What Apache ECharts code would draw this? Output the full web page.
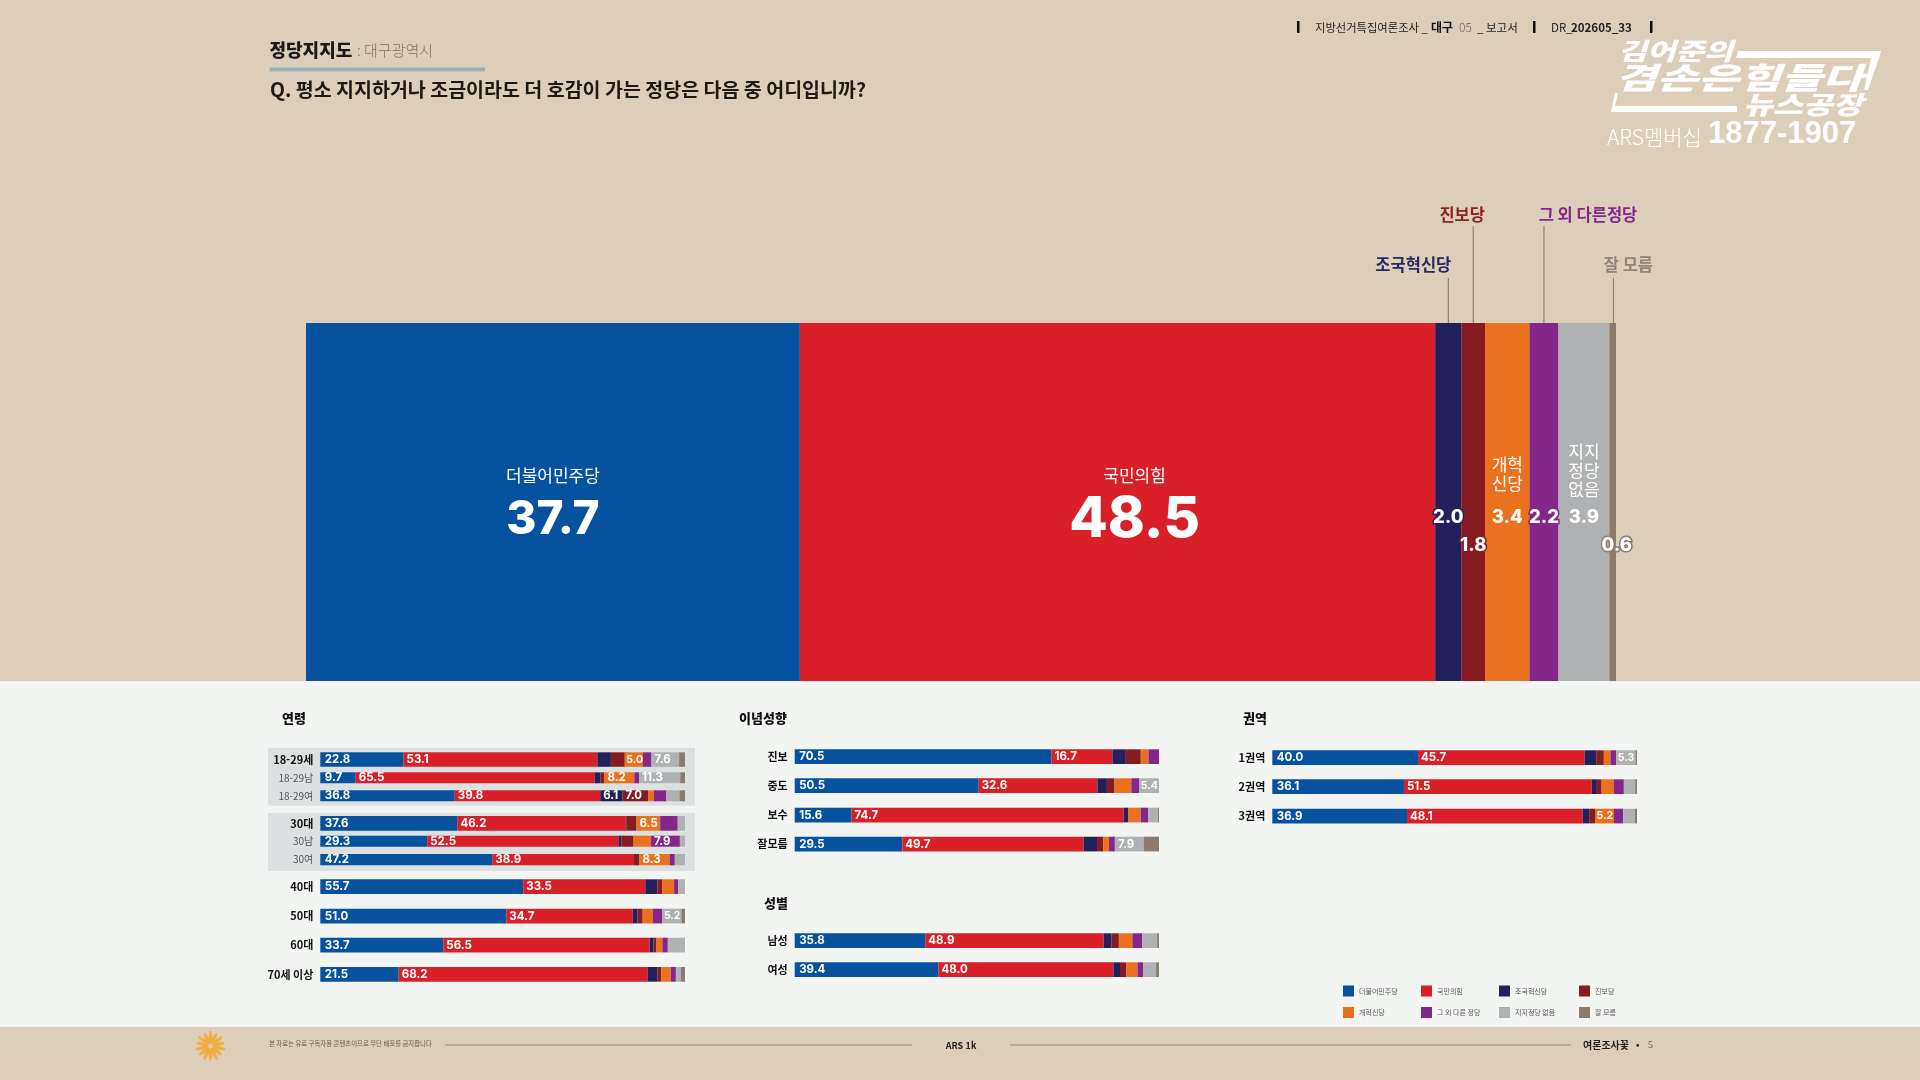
<!DOCTYPE html>
<html lang="ko"><head><meta charset="utf-8">
<style>html,body{margin:0;padding:0;background:#DCCEB8}#c{width:1920px;height:1080px}</style>
<script src="https://cdn.jsdelivr.net/npm/echarts@6/dist/echarts.min.js"></script>
</head><body><div id="c"></div>
<script>
const parties = ['더불어민주당','국민의힘','조국혁신당','진보당','개혁신당','그 외 다른 정당','지지정당 없음','잘 모름'];
const colors = ['#06529E','#D92029','#22215C','#861C22','#EA711E','#83278A','#AFB1B3','#8B7B6E'];
const totalValues = [37.7,48.5,2.0,1.8,3.4,2.2,3.9,0.6];

const ageCategories = ['18-29세','18-29남','18-29여','30대','30남','30여','40대','50대','60대','70세 이상'];
const ageValues = [
 [22.8,53.1,3.7,3.8,5.0,2.3,7.6,1.6],
 [9.7,65.5,1.6,1.1,8.2,1.3,11.3,1.3],
 [36.8,39.8,6.1,7.0,1.6,3.4,3.6,1.5],
 [37.6,46.2,0.2,2.7,6.5,4.8,2.0,0],
 [29.3,52.5,0.7,3.3,4.8,7.9,1.4,0],
 [47.2,38.9,0,1.5,8.3,1.4,2.8,0],
 [55.7,33.5,3.3,1.3,3.3,1.1,1.9,0],
 [51.0,34.7,1.3,1.4,2.8,2.6,5.2,1.0],
 [33.7,56.5,1.1,0.8,1.6,1.5,4.7,0],
 [21.5,68.2,2.7,1.1,2.6,1.4,1.3,1.2]
];
const ideologyCategories = ['진보','중도','보수','잘모름'];
const ideologyValues = [
 [70.5,16.7,3.7,4.1,2.1,2.9,0,0],
 [50.5,32.6,2.6,2.1,4.6,2.2,5.4,0],
 [15.6,74.7,1.2,0,3.5,2.0,2.7,0.3],
 [29.5,49.7,3.7,1.7,1.6,1.6,7.9,4.2]
];
const genderCategories = ['남성','여성'];
const genderValues = [
 [35.8,48.9,2.2,2.0,3.7,2.7,4.1,0.5],
 [39.4,48.0,1.8,1.7,3.1,1.6,3.5,0.8]
];
const regionCategories = ['1권역','2권역','3권역'];
const regionValues = [
 [40.0,45.7,3.2,2.1,1.8,1.6,5.3,0.4],
 [36.1,51.5,1.4,1.3,3.4,2.7,3.1,0.5],
 [36.9,48.1,1.8,1.6,5.2,2.5,3.2,0.6]
];

const KR = '"Noto Sans CJK KR"';
const NUM = 'Inter,"Noto Sans CJK KR"';
const minorRows = new Set(['18-29남','18-29여','30남','30여']);

/* layout of the small bars: [top, height] per row */
const panels = [
 {cats:ageCategories, vals:ageValues, left:320.3, width:364.7, rows:[[752.3,14.5],[772.3,11],[790.3,11],[816,14.7],[835.7,11],[854,11.3],[879.3,14.7],[908.7,14.7],[937.7,14.7],[967,14.7]]},
 {cats:ideologyCategories, vals:ideologyValues, left:794.7, width:364.3, rows:[[749.3,14.7],[778.3,14.7],[807.7,14.7],[836.7,14.7]]},
 {cats:genderCategories, vals:genderValues, left:794.7, width:364.3, rows:[[933.3,14.7],[962.3,14.7]]},
 {cats:regionCategories, vals:regionValues, left:1272.3, width:364.7, rows:[[750.3,14.7],[779.3,14.7],[808.7,14.7]]}
];

const grids=[], xAxes=[], yAxes=[], series=[];

/* main bar */
const sum = a => a.reduce((s,v)=>s+v,0);
grids.push({left:306,width:1310,top:323,height:358});
xAxes.push({type:'value',gridIndex:0,min:0,max:100,show:false});
yAxes.push({type:'category',gridIndex:0,data:['대구광역시'],show:false});
const f1 = v => v.toFixed(1);
const mainLabels = [
 {text:(v)=>`{n|더불어민주당}\n{v|${f1(v)}}`, dx:0, dy:6, size:46, nameLine:24, vLine:64},
 {text:(v)=>`{n|국민의힘}\n{v|${f1(v)}}`, dx:17, dy:6, size:56, nameLine:24, vLine:64},
 {text:(v)=>`{v|${f1(v)}}`, dx:0, dy:15, size:18.5, vLine:24},
 {text:(v)=>`{v|${f1(v)}}`, dx:0, dy:43, size:18.5, vLine:24},
 {text:(v)=>`{n|개혁}\n{n|신당}\n{g| }\n{v|${f1(v)}}`, dx:0, dy:-10, size:18.5, nameLine:19, vLine:24, gap:12},
 {text:(v)=>`{v|${f1(v)}}`, dx:0, dy:15, size:18.5, vLine:24},
 {text:(v)=>`{n|지지}\n{n|정당}\n{n|없음}\n{g| }\n{v|${f1(v)}}`, dx:0, dy:-16.5, size:18.5, nameLine:19, vLine:24, gap:6},
 {text:(v)=>`{v|${f1(v)}}`, dx:4, dy:43, size:18.5, vLine:24}
];
parties.forEach((p,i)=>{
  const m = mainLabels[i], small = m.size<=20;
  series.push({type:'bar',name:p,stack:'main',xAxisIndex:0,yAxisIndex:0,barWidth:'100%',
    data:[totalValues[i]],itemStyle:{color:colors[i]},silent:true,
    label:{show:true,position:'inside',offset:[m.dx,m.dy],align:'center',verticalAlign:'middle',
      formatter:()=>m.text(totalValues[i]),
      rich:{
        n:{fontFamily:KR,fontSize:17,color:'#fff',lineHeight:m.nameLine||20,align:'center'},
        g:{fontSize:4,lineHeight:m.gap||4,height:m.gap||4},
        v:{fontFamily:NUM,fontWeight:800,fontSize:m.size,color:'#fff',lineHeight:m.vLine,align:'center',
           textBorderColor:small?colors[i]:'transparent',textBorderWidth:small?3:0}
      }}});
});

/* small bars: one grid per row so each row keeps its own height */
panels.forEach(pn=>{
  pn.cats.forEach((cat,r)=>{
    const g=grids.length, vals=pn.vals[r], minor=minorRows.has(cat);
    grids.push({left:pn.left,width:pn.width,top:pn.rows[r][0],height:pn.rows[r][1]});
    xAxes.push({type:'value',gridIndex:g,min:0,max:sum(vals),show:false});
    yAxes.push({type:'category',gridIndex:g,data:[cat],axisLine:{show:false},axisTick:{show:false},
      axisLabel:{margin:7,fontFamily:KR,fontSize:minor?10:11,fontWeight:minor?400:700,color:minor?'#555':'#111'}});
    parties.forEach((p,i)=>{
      const tight=i>0&&vals[i]<5.6;
      series.push({type:'bar',name:p,stack:'r'+g,xAxisIndex:g,yAxisIndex:g,barWidth:'100%',
        data:[vals[i]],itemStyle:{color:colors[i]},silent:true,
        label:{show:vals[i]>=5,position:'insideLeft',distance:i===0?4.5:(tight?1.5:3),
          formatter:()=>f1(vals[i]),fontFamily:NUM,fontWeight:700,fontSize:tight?10.5:11.5,color:'#fff'}});
    });
  });
});

const T=(x,y,text,font,fill,align,scaleX)=>({type:'text',z:5,silent:true,x,y,scaleX:scaleX||1,style:{x:0,y:0,text,font,fill,
  align:align||'left',textAlign:align||'left',verticalAlign:'middle',textVerticalAlign:'middle'}});
const R=(x,y,w,h,fill,z)=>({type:'rect',z:z===undefined?-2:z,silent:true,shape:{x,y,width:w,height:h},style:{fill}});
const L=(x1,y1,x2,y2,c,w)=>({type:'line',z:1,silent:true,shape:{x1,y1,x2,y2},style:{stroke:c,lineWidth:w||1}});
const P=(pts,fill)=>({type:'polygon',z:5,silent:true,shape:{points:pts},style:{fill}});

const sun=[];
for(let k=0;k<14;k++){
  sun.push({type:'ellipse',z:5,silent:true,x:210.5,y:1046,rotation:k*2*Math.PI/14,
    shape:{cx:0,cy:-8.5,rx:1.7,ry:k%2?6:7},style:{fill:'#F1AE45'}});
}
sun.push({type:'circle',z:6,silent:true,shape:{cx:210.5,cy:1046,r:2.2},style:{fill:'#D9C9A8'}});

const graphic=[
 R(0,681,1920,346,'#F3F5F3'),
 R(268,747.7,427,58,'#DDE0E1',-1),
 R(268,813,427,58,'#DDE0E1',-1),
 /* header */
 T(269.5,50,'정당지지도','900 18px '+KR,'#1a1a1a'),
 T(357,50,': 대구광역시','300 15px '+KR,'#7b7770'),
 R(269.5,67.5,215.5,4,'#9DB0BA',1),
 T(270,90,'Q. 평소 지지하거나 조금이라도 더 호감이 가는 정당은 다음 중 어디입니까?','600 19.5px '+KR,'#1d1a16'),
 /* top right */
 R(1297,21,2.5,12,'#111',1),R(1533,21,2.5,12,'#111',1),R(1650,21,2.5,12,'#111',1),
 T(1315,27.5,'지방선거특집여론조사 _','400 11.3px '+KR,'#222'),
 T(1431,27.5,'대구','700 12px '+KR,'#111'),
 T(1459,27.5,'05','300 12px '+KR,'#666'),
 T(1477,27.5,'_ 보고서','400 11.5px '+KR,'#222'),
 T(1551,27.5,'DR_','400 11.5px '+KR,'#222'),
 T(1571,27.5,'202605_33','700 11.5px '+KR,'#222'),
 /* programme logo */
 T(1618,51,'김어준의','italic 900 24px '+KR,'#fff','left',1.3),
 T(1615,77.5,'겸손은힘들다','italic 900 30px '+KR,'#fff','left',1.5),
 T(1743,104.5,'뉴스공장','italic 900 25px '+KR,'#fff','left',1.3),
 P([[1738,51],[1881,51],[1879,58],[1736,58]],'#fff'),
 P([[1871,58],[1879,58],[1868,90],[1864,90]],'#fff'),
 P([[1611,112],[1737,112],[1737,106],[1615,106],[1618,93],[1615,93]],'#fff'),
 T(1607,137,'ARS멤버십','300 21px '+KR,'#fff'),
 T(1708,134,'1877-1907','700 31px "Liberation Sans"','#fff'),
 /* panel titles */
 T(282,718,'연령','900 13px '+KR,'#111'),
 T(739,718,'이념성향','900 13px '+KR,'#111'),
 T(764,903,'성별','900 13px '+KR,'#111'),
 T(1243,718,'권역','900 13px '+KR,'#111'),
 /* footer */
 ...sun,
 T(269,1044,'본 자료는 유료 구독자용 콘텐츠이므로 무단 배포를 금지합니다','400 6.4px '+KR,'#665f55'),
 L(445,1045,912,1045,'#9c8f7e',1.2),
 T(961,1046,'ARS 1k','700 9px '+KR,'#222','center'),
 L(1010,1045,1571,1045,'#9c8f7e',1.2),
 T(1583,1045,'여론조사꽃','700 10px '+KR,'#222'),
 T(1636,1045,'•','700 9px '+KR,'#222'),
 T(1648,1045,'5','400 10px "Liberation Serif"','#555')
];

/* four one-column legends so the 4x2 block lines up */
const legendCols=[[0,4,1343],[1,5,1421],[2,6,1499],[3,7,1579]];
const legend=legendCols.map(([a,b,x])=>({
  data:[parties[a],parties[b]],orient:'vertical',left:x,top:985.5,padding:0,itemWidth:11,itemHeight:11,itemGap:10.5,
  icon:'rect',selectedMode:false,textStyle:{fontFamily:KR,fontSize:7,color:'#555'}
}));

const option={animation:false,backgroundColor:'#DCCEB8',tooltip:{show:false},legend,grid:grids,xAxis:xAxes,yAxis:yAxes,series,graphic};
const chart=echarts.init(document.getElementById('c'),null,{renderer:'canvas',width:1920,height:1080});
chart.setOption(option);

/* leader lines run from the middle of each small segment on the main bar */
const leaders=[[2,278,265,-35,'조국혁신당','#2A2A62'],[3,226,215,-11,'진보당','#8A2227'],[5,226,215,44,'그 외 다른정당','#84298B'],[7,278,265,15,'잘 모름','#8F8578']];
leaders.forEach(([i,top,ty,dx,txt,col])=>{
  const mid=sum(totalValues.slice(0,i))+totalValues[i]/2;
  const [px,py]=chart.convertToPixel({gridIndex:0},[mid,0]);
  graphic.push(L(px,top,px,323,'#7f7465',1));
  graphic.push(T(px+dx,ty,txt,'700 16.5px '+KR,col,'center'));
});
chart.setOption(option,true);
</script></body></html>
